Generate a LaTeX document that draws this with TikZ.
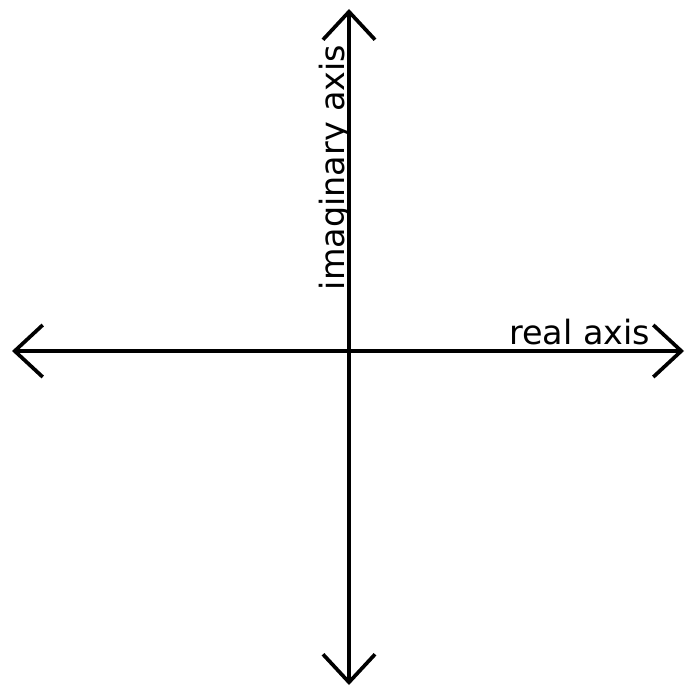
\documentclass[tikz,border=0pt]{standalone}
\usepackage{fontspec}
\setmainfont{DejaVu Sans}
\usetikzlibrary{arrows.meta}

\begin{document}
\begin{tikzpicture}[x=0.01cm,y=-0.01cm,line width=1.05pt,
  >={Straight Barb[length=0.28cm,width=0.52cm,line width=1.05pt]},
  axislabel/.style={inner sep=0pt,font=\fontsize{9.5}{11}\selectfont}]
\useasboundingbox (0,0) rectangle (686,688);
% 坐标轴端点
\coordinate (O) at (349,351);
\coordinate (W) at (12,351);
\coordinate (E) at (684,351);
\coordinate (N) at (349,9);
\coordinate (S) at (349,685);
% 实轴与虚轴（两端带箭头）
\draw[<->] (W) -- (E);
\draw[<->] (S) -- (N);
% 轴标签
\node[axislabel,anchor=base east] (re) at (652,344) {real axis};
\node[axislabel,rotate=90,anchor=base west] (im) at (344,292) {imaginary axis};
\end{tikzpicture}
\end{document}
